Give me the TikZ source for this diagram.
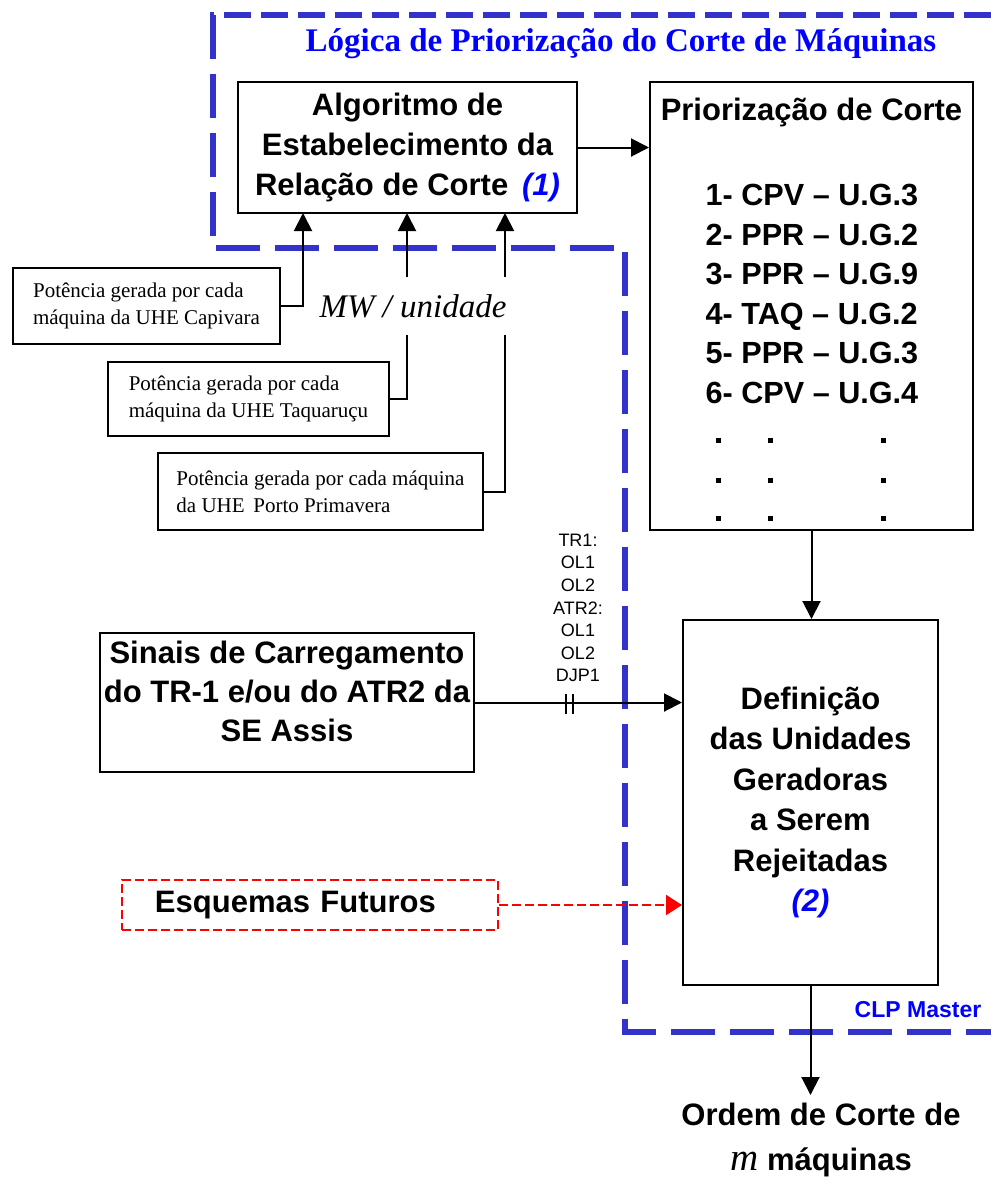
\documentclass[tikz,border=0pt]{standalone}
\usepackage{fontspec}
\setmainfont{Liberation Serif}
\setsansfont{Liberation Sans}
\usetikzlibrary{arrows.meta}
\definecolor{frameblue}{RGB}{51,51,204}
\newcommand{\bigbf}{\sffamily\bfseries\fontsize{15.5}{20}\selectfont}
\newcommand{\smallrm}{\rmfamily\fontsize{10.5}{13.5}\selectfont}
\tikzset{
  blk/.style={draw,line width=1pt,align=center},
  potbox/.style={draw,line width=1pt,align=left,font=\smallrm},
  flow/.style={line width=1pt,-{Triangle[length=9pt,width=9pt]}},
  frame/.style={frameblue,line width=3pt},
}

\begin{document}
\begin{tikzpicture}[x=0.5pt,y=-0.5pt]
  \useasboundingbox (0,0) rectangle (991,1180);
  % dashed outline of the CLP
  \draw[frame,dash pattern=on 13.5pt off 5pt] (991,15) -- (210,15);
  \draw[frame,dash pattern=on 22pt off 7.5pt] (213,15) -- (213,248) -- (625,248) -- (625,1032) -- (991,1032);
  \node[text=blue,font=\rmfamily\bfseries\fontsize{16.5}{19}\selectfont] (titulo) at (621,44) {Lógica de Priorização do Corte de Máquinas};
  \node[text=blue,font=\sffamily\bfseries\fontsize{11.5}{13}\selectfont] (clp) at (918,1010) {CLP Master};

  % main blocks
  \node[blk,minimum width=169.5pt,minimum height=65.5pt,font=\bigbf] (algo) at (407.5,147.5)
    {Algoritmo de\\Estabelecimento da\\Relação de Corte \,{\color{blue}\itshape(1)}};
  \node[draw,line width=1pt,minimum width=161.5pt,minimum height=224pt] (prior) at (811.5,306) {};
  \node[font=\bigbf] (priortit) at (811.5,112) {Priorização de Corte};
  \node[font=\sffamily\bfseries\fontsize{15.3}{19.8}\selectfont,align=left] (lista) at (812,294)
    {1- CPV – U.G.3\\2- PPR – U.G.2\\3- PPR – U.G.9\\4- TAQ – U.G.2\\5- PPR – U.G.3\\6- CPV – U.G.4};
  \foreach \yy in {440,480,518} {
    \foreach \xx in {718,770,883} { \fill (\xx-2.5,\yy-2.5) rectangle (\xx+2.5,\yy+2.5); }
  }
  \node[blk,minimum width=127.5pt,minimum height=182.5pt,font=\sffamily\bfseries\fontsize{15.5}{20.2}\selectfont] (def) at (810.5,802.5)
    {Definição\\das Unidades\\Geradoras\\a Serem\\Rejeitadas\\{\color{blue}\itshape(2)}};
  \node[draw,line width=1pt,minimum width=187pt,minimum height=69.5pt] (sinais) at (287,702.5) {};
  \node[font=\sffamily\bfseries\fontsize{15.5}{19.5}\selectfont,align=center] (sinaistxt) at (287,691)
    {Sinais de Carregamento\\do TR-1 e/ou do ATR2 da\\SE Assis};
  \node[draw=red,dash pattern=on 4.5pt off 2pt,line width=1pt,text width=155pt,inner xsep=16.5pt,
        minimum height=25pt,align=left,font=\bigbf] (esq) at (310,905) {Esquemas Futuros};
  \node[font=\bigbf,align=center,anchor=north,inner ysep=3.8pt,text depth=0pt] (ordem) at (821,1095)
    {Ordem de Corte de\\[2.5pt]{\rmfamily\mdseries\itshape\fontsize{19.5}{20}\selectfont m} máquinas};

  % measurement inputs
  \node[potbox,minimum width=133.5pt,minimum height=38pt] (p1) at (146.5,306) {Potência gerada por cada\\máquina da UHE Capivara};
  \node[potbox,minimum width=140.5pt,minimum height=37pt] (p2) at (248.5,399) {Potência gerada por cada\\máquina da UHE Taquaruçu};
  \node[potbox,minimum width=162.5pt,minimum height=38.5pt] (p3) at (320.5,491.5) {Potência gerada por cada máquina\\da UHE \,Porto Primavera};
  \coordinate (in1) at (303,213);
  \coordinate (in2) at (407,213);
  \coordinate (in3) at (505,213);
  \draw[flow] (p1.east) -| (in1);
  \draw[flow] (p2.east) -| (in2);
  \draw[flow] (p3.east) -| (in3);
  \node[fill=white,minimum width=100pt,minimum height=29pt,font=\rmfamily\itshape\fontsize{16.5}{18}\selectfont] (mw) at (413,306) {MW / unidade};

  % signals
  \draw[flow] (algo.east) -- (algo.east -| prior.west);
  \draw[flow] (prior.south) -- (prior.south |- def.north);
  \draw[flow] (sinais.east) -- (sinais.east -| def.west);
  \draw[line width=0.8pt] (566,694) -- (566,714) (573,694) -- (573,714); % contact marks
  \node[font=\sffamily\fontsize{9}{11.3}\selectfont,align=center] (trips) at (578,608) {TR1:\\OL1\\OL2\\ATR2:\\OL1\\OL2\\DJP1};
  \draw[red,line width=1pt,dash pattern=on 4.5pt off 2pt,-{Triangle[length=8pt,width=10pt]}] (esq.east) -- (esq.east -| def.west);
  \draw[flow] (def.south) -- (def.south |- ordem.north);
\end{tikzpicture}
\end{document}
